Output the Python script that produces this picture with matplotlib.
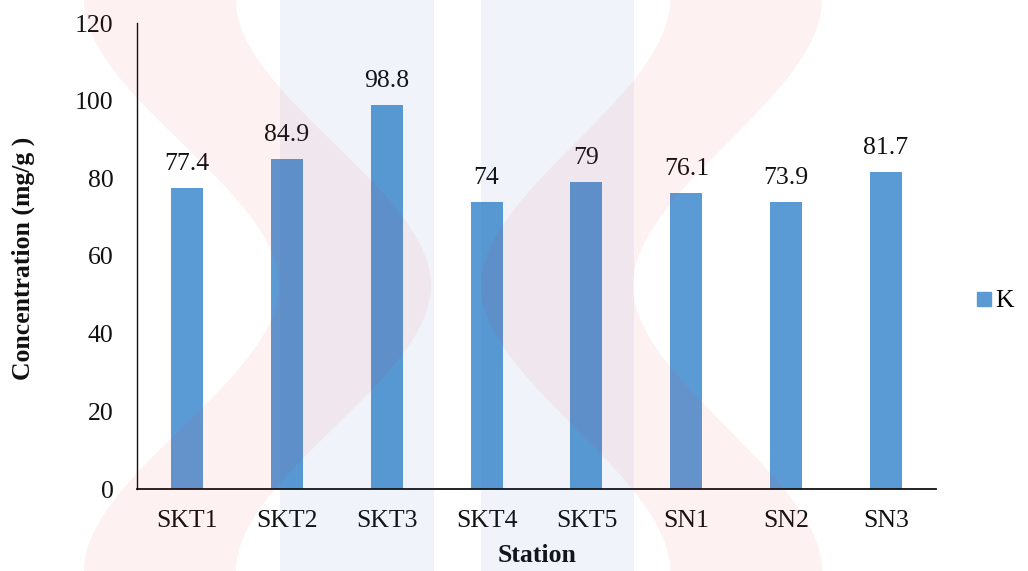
import numpy as np
import matplotlib
matplotlib.use("Agg")
import matplotlib.pyplot as plt
from matplotlib.lines import Line2D

# Potassium concentration per sampling station
stations = ["SKT1", "SKT2", "SKT3", "SKT4", "SKT5", "SN1", "SN2", "SN3"]
k_values = [77.4, 84.9, 98.8, 74, 79, 76.1, 73.9, 81.7]
value_labels = ["77.4", "84.9", "98.8", "74", "79", "76.1", "73.9", "81.7"]
y_ticks = [0, 20, 40, 60, 80, 100, 120]
series_name = "K"

BAR_COLOR = "#5b9bd5"
FONT = "Liberation Serif"
FS = 18.5

plt.rcParams["font.family"] = [FONT, "DejaVu Serif"]

W, H = 1028, 571
fig = plt.figure(figsize=(W / 100, H / 100), dpi=100)
fig.patch.set_facecolor("white")

ax = fig.add_axes([137 / W, 1 - 489 / H, (936 - 137) / W, (489 - 23) / H])
x = np.arange(len(stations))
ax.bar(x, k_values, width=0.32, color=BAR_COLOR, edgecolor="none", zorder=2)

for xi, v, lab in zip(x, k_values, value_labels):
    ax.annotate(lab, (xi, v), xytext=(0, 13), textcoords="offset points",
                ha="center", va="baseline", fontsize=FS, color="#111111")

ax.set_xlim(-0.5, len(stations) - 0.5)
ax.set_ylim(0, 120)
ax.set_yticks(y_ticks)
ax.set_yticklabels([str(t) for t in y_ticks], fontsize=FS, color="#111111")
ax.set_xticks(x)
ax.set_xticklabels(stations, fontsize=FS, color="#111111")
ax.tick_params(axis="y", length=0, pad=17)
ax.tick_params(axis="x", length=0, pad=15)
for side in ("top", "right"):
    ax.spines[side].set_visible(False)
ax.spines["left"].set_linewidth(1.0)
ax.spines["bottom"].set_linewidth(1.3)
ax.spines["left"].set_color("#111111")
ax.spines["bottom"].set_color("#111111")
ax.set_facecolor("none")

fig.text(23 / W, 1 - 258 / H, "Concentration (mg/g )", rotation=90,
         ha="center", va="center", fontsize=FS, fontweight="bold", color="#111111")
fig.text(537 / W, 1 - 556 / H, "Station", ha="center", va="center",
         fontsize=FS, fontweight="bold", color="#111111")

handle = Line2D([], [], marker="s", ls="", color=BAR_COLOR, markersize=10)
fig.legend([handle], [series_name], loc="center left",
           bbox_to_anchor=(976 / W, 1 - 301 / H), frameon=False,
           fontsize=FS, handlelength=0.6, handletextpad=0.15,
           borderpad=0, borderaxespad=0)

# Faint logo tint laid over the whole figure
ov = fig.add_axes([0, 0, 1, 1], zorder=10)
ov.set_xlim(0, W)
ov.set_ylim(H, 0)
ov.axis("off")
ov.patch.set_alpha(0)

yy = np.linspace(0, H, 400)
t = np.where(yy <= H / 2, yy / (H / 2), (H - yy) / (H / 2))
s = 3 * t ** 2 - 2 * t ** 3

# vertical blue bands
for x0, x1 in [(280, 434), (481, 634)]:
    ov.axvspan(x0, x1, color=(0.12, 0.39, 0.71), alpha=0.065, lw=0)

# two mirrored red chevron strokes
half = 76
left_c = 160 + (355 - 160) * s
right_c = 746 - (746 - 557) * s
for c in (left_c, right_c):
    ov.fill_betweenx(yy, c - half, c + half, color=(0.9, 0.12, 0.16),
                     alpha=0.06, lw=0)

fig.savefig("out.png", dpi=100)
